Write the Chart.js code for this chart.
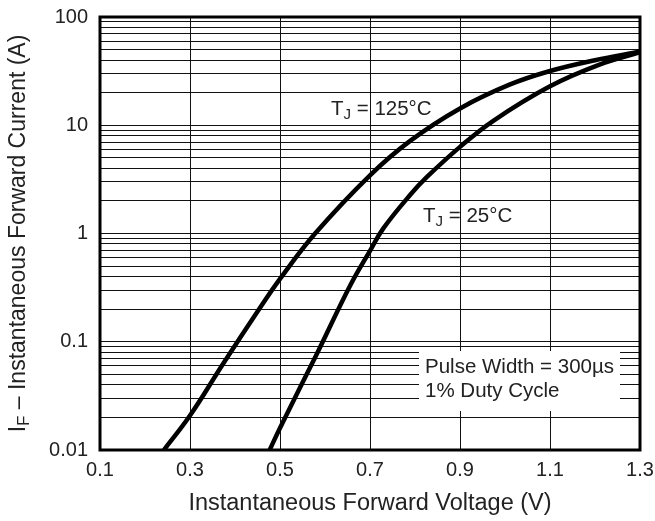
<!DOCTYPE html>
<html>
<head>
<meta charset="utf-8">
<script src="https://cdn.jsdelivr.net/npm/chart.js@4/dist/chart.umd.min.js"></script>
<style>
html,body{margin:0;padding:0;background:#fff;}
canvas{display:block;}
</style>
</head>
<body>
<canvas id="c" width="655" height="521"></canvas>
<script>
// ---- data ----
const v125 = [0.242, 0.30, 0.374, 0.456, 0.50, 0.578, 0.70, 0.79, 0.90, 1.01, 1.10, 1.20, 1.30];
const i125 = [0.01, 0.0208, 0.063, 0.207, 0.381, 1.0, 3.45, 7.21, 14.3, 23.7, 31.7, 39.9, 48.0];
const v25 = [0.477, 0.50, 0.581, 0.656, 0.70, 0.73, 0.79, 0.826, 0.90, 0.974, 1.10, 1.21, 1.30];
const i25 = [0.01, 0.016, 0.0759, 0.331, 0.692, 1.12, 2.29, 3.31, 6.31, 11.0, 22.9, 36.3, 47.3];
const xTickValues = [0.1, 0.3, 0.5, 0.7, 0.9, 1.1, 1.3];
const yDecades = [0.01, 0.1, 1, 10, 100];
const yDecadeLabels = ['0.01', '0.1', '1', '10', '100'];
const xTitle = 'Instantaneous Forward Voltage (V)';
const yTitleMain = 'I';
const yTitleSub = 'F';
const yTitleRest = ' \u2013 Instantaneous Forward Current (A)';
const label125 = ['T', 'J', ' = 125\u00B0C'];
const label25 = ['T', 'J', ' = 25\u00B0C'];
const noteLines = ['Pulse Width = 300\u00B5s', '1% Duty Cycle'];

const FONT = '"Liberation Sans", Arial, sans-serif';
const TXT = '#222';

function pts(xs, ys){ return xs.map((x,i)=>({x:x, y:ys[i]})); }

// all log grid positions (1..9 per decade)
const yGrid = [];
for (let d = 0; d < yDecades.length; d++) {
  const base = yDecades[d];
  if (d === yDecades.length - 1) { yGrid.push(base); break; }
  for (let m = 1; m <= 9; m++) yGrid.push(+(base * m).toPrecision(3));
}

function drawSub(ctx, parts, x, y, size) {
  ctx.font = size + 'px ' + FONT;
  ctx.fillText(parts[0], x, y);
  let w = ctx.measureText(parts[0]).width;
  ctx.font = Math.round(size * 0.72) + 'px ' + FONT;
  ctx.fillText(parts[1], x + w, y + size * 0.18);
  w += ctx.measureText(parts[1]).width;
  ctx.font = size + 'px ' + FONT;
  ctx.fillText(parts[2], x + w, y);
}
function measureSub(ctx, parts, size) {
  ctx.font = size + 'px ' + FONT;
  let w = ctx.measureText(parts[0]).width + ctx.measureText(parts[2]).width;
  ctx.font = Math.round(size * 0.72) + 'px ' + FONT;
  w += ctx.measureText(parts[1]).width;
  return w;
}

const decor = {
  id: 'decor',
  afterDatasetsDraw(chart) {
    const ctx = chart.ctx;
    const a = chart.chartArea;
    ctx.save();
    // white note box over the grid
    ctx.fillStyle = '#fff';
    ctx.fillRect(419, 351, 201, 60);
    ctx.fillStyle = TXT;
    ctx.textBaseline = 'alphabetic';
    ctx.textAlign = 'left';
    ctx.font = '20.5px ' + FONT;
    ctx.fillText(noteLines[0], 425, 373);
    ctx.fillText(noteLines[1], 425, 397);
    // curve labels
    drawSub(ctx, label125, 331, 115, 20.5);
    drawSub(ctx, label25, 423, 222, 20.5);
    // frame
    ctx.strokeStyle = '#000';
    ctx.lineWidth = 3;
    ctx.strokeRect(a.left, a.top, a.right - a.left, a.bottom - a.top);
    // y title (rotated, with subscript)
    const size = 23;
    const parts = [yTitleMain, yTitleSub, yTitleRest];
    const w = measureSub(ctx, parts, size);
    ctx.translate(25, (a.top + a.bottom) / 2);
    ctx.rotate(-Math.PI / 2);
    ctx.fillStyle = TXT;
    drawSub(ctx, parts, -w / 2, 0, size);
    ctx.restore();
  }
};

new Chart(document.getElementById('c'), {
  type: 'line',
  data: {
    datasets: [
      { label: 'TJ = 125°C', data: pts(v125, i125), borderColor: '#000', borderWidth: 4.5,
        pointRadius: 0, tension: 0.4, fill: false },
      { label: 'TJ = 25°C', data: pts(v25, i25), borderColor: '#000', borderWidth: 4.5,
        pointRadius: 0, tension: 0.4, fill: false }
    ]
  },
  options: {
    responsive: false,
    animation: false,
    events: [],
    layout: { padding: { top: 17, right: 15, left: 0, bottom: 0 } },
    plugins: { legend: { display: false }, tooltip: { enabled: false } },
    scales: {
      x: {
        type: 'linear', min: 0.1, max: 1.3,
        afterBuildTicks(s) { s.ticks = xTickValues.map(v => ({ value: v })); },
        afterFit(s) { s.height = 71; s.paddingLeft = 0; s.paddingRight = 0; },
        grid: { color: '#111', lineWidth: 1, drawTicks: false },
        border: { display: false },
        ticks: { padding: 8, color: TXT, font: { size: 20, family: FONT },
          autoSkip: false, maxRotation: 0,
          callback: (v) => (+v).toFixed(1) },
        title: { display: true, text: xTitle, color: TXT, font: { size: 23.5, family: FONT },
          padding: { top: 4, bottom: 3 } }
      },
      y: {
        type: 'logarithmic', min: 0.01, max: 100,
        afterBuildTicks(s) { s.ticks = yGrid.map(v => ({ value: v })); },
        afterFit(s) { s.width = 100; s.paddingTop = 0; s.paddingBottom = 0; },
        grid: { color: '#111', lineWidth: 1, drawTicks: false },
        border: { display: false },
        ticks: { padding: 12, color: TXT, font: { size: 20, family: FONT }, autoSkip: false,
          callback: (v) => { const k = yDecades.findIndex(d => Math.abs(d - v) / d < 1e-6); return k >= 0 ? yDecadeLabels[k] : ''; } }
      }
    }
  },
  plugins: [decor]
});
</script>
</body>
</html>
